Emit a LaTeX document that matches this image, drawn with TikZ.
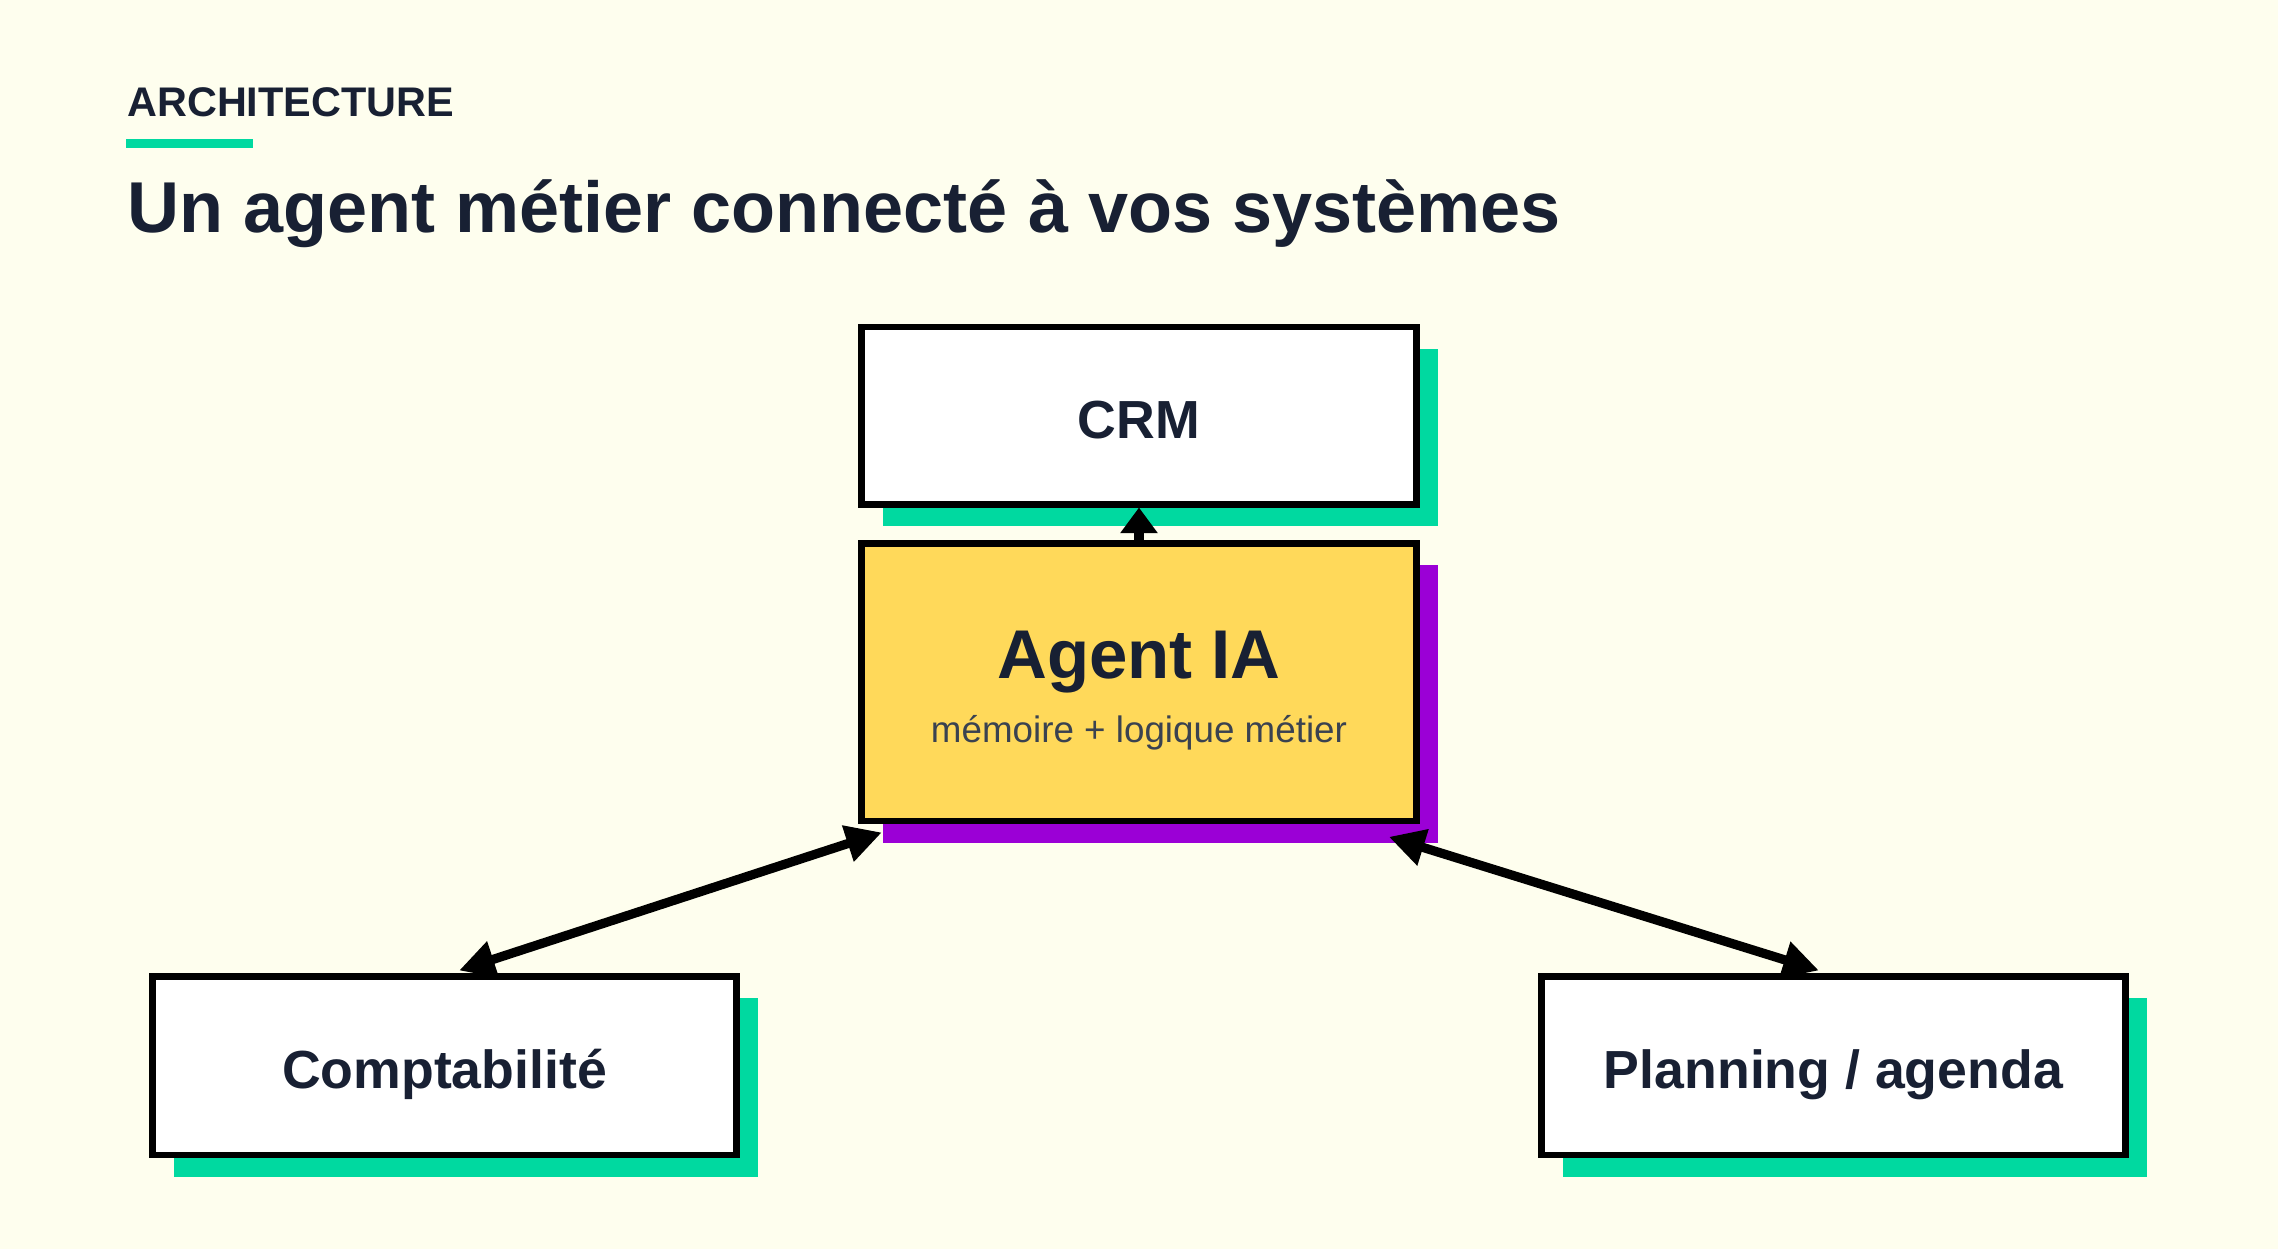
\documentclass[tikz,border=0pt]{standalone}
\usepackage{fontspec}
\setmainfont{Liberation Sans}
\usetikzlibrary{arrows.meta}
\definecolor{bg}{HTML}{FEFEEE}
\definecolor{ink}{HTML}{182033}
\definecolor{mint}{HTML}{00D9A0}
\definecolor{violet}{HTML}{9B00D6}
\definecolor{gold}{HTML}{FFD95A}
\definecolor{sub}{HTML}{3A4250}
\begin{document}
\begin{tikzpicture}[x=0.01cm,y=-0.01cm,
  box/.style={draw=black,line width=1.3pt,fill=white,inner sep=0pt,text=ink,font=\bfseries\fontsize{10.5}{12}\selectfont},
  lbl/.style={text=ink,font=\bfseries\fontsize{10.5}{12}\selectfont,inner sep=0pt,anchor=base},
  conn/.style={line width=1.8pt,{Triangle[length=7pt,width=7pt]}-{Triangle[length=7pt,width=7pt]}}]
\fill[bg] (0,0) rectangle (1568,860);
\useasboundingbox (0,0) rectangle (1568,860);
\node[anchor=base west,text=ink,font=\bfseries\fontsize{8.1}{9}\selectfont,inner sep=0pt] (kicker) at (87,80) {ARCHITECTURE};
\fill[mint] (87,96) rectangle (174,102);
\node[anchor=base west,text=ink,font=\bfseries\fontsize{14.1}{16}\selectfont,inner sep=0pt] (title) at (87,160) {Un agent métier connecté à vos systèmes};
% shadows
\fill[mint] (608,240) rectangle (990,362);
\fill[violet] (608,389) rectangle (990,580);
\fill[mint] (120,687) rectangle (522,810);
\fill[mint] (1076,687) rectangle (1478,810);
% boxes
\node[box,minimum width=3.82cm,minimum height=1.22cm] (crm) at (784,286) {};
\node[lbl] (crmt) at (784,302) {CRM};
\node[box,fill=gold,minimum width=3.82cm,minimum height=1.91cm] (agent) at (784,469.5) {};
\node[text=ink,font=\bfseries\fontsize{13.5}{15}\selectfont,inner sep=0pt,anchor=base] (agt) at (784,467) {Agent IA};
\node[text=sub,font=\fontsize{7.2}{9}\selectfont,inner sep=0pt,anchor=base] (agsub) at (784,511) {mémoire + logique métier};
\node[box,minimum width=4.02cm,minimum height=1.23cm] (compta) at (306,733.5) {};
\node[lbl] (comptat) at (306,749) {Comptabilité};
\node[box,minimum width=4.02cm,minimum height=1.23cm] (plan) at (1262,733.5) {};
\node[lbl] (plant) at (1262,749) {Planning / agenda};
% connectors
\coordinate (a1) at (607,573);
\coordinate (c1) at (316,668);
\coordinate (a2) at (956,576);
\coordinate (p1) at (1252,668);
\draw[conn] (a1) -- (c1);
\draw[conn] (a2) -- (p1);
\draw[line width=1.8pt,-{Triangle[length=5pt,width=7pt]}] (agent.north) -- (crm.south);
\end{tikzpicture}
\end{document}
